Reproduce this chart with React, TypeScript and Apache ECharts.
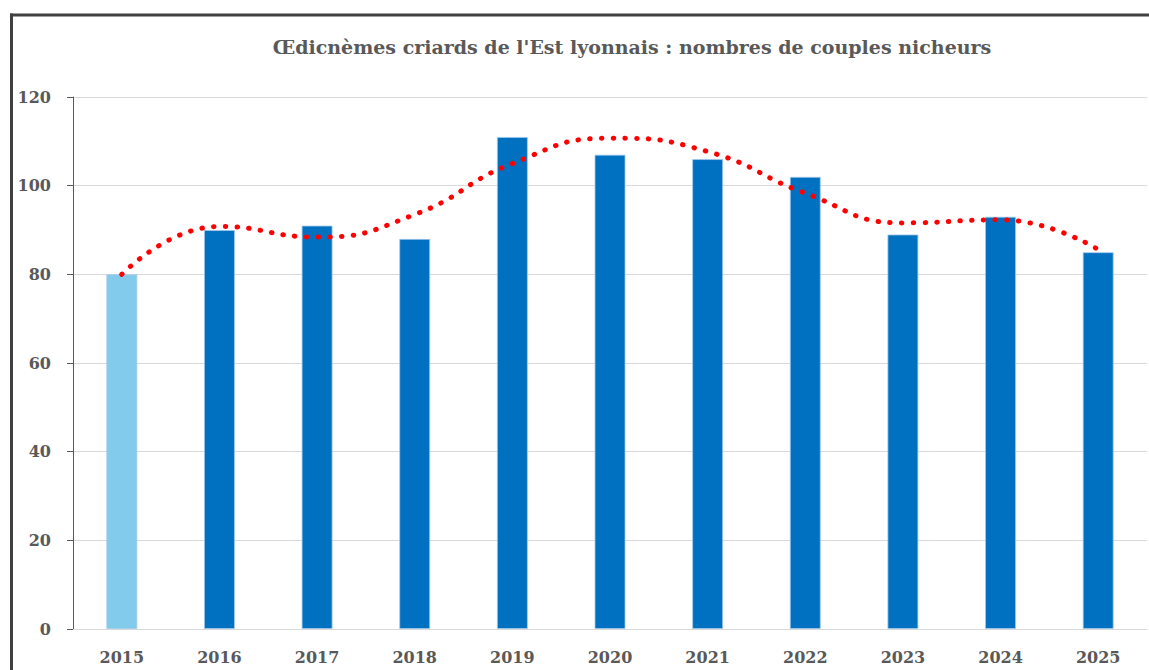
import React, { useEffect, useRef } from "react";
import * as echarts from "echarts";

const titleText = "Œdicnèmes criards de l'Est lyonnais : nombres de couples nicheurs";
const years = ["2015", "2016", "2017", "2018", "2019", "2020", "2021", "2022", "2023", "2024", "2025"];
const couples = [80, 90, 91, 88, 111, 107, 106, 102, 89, 93, 85];
const trend = [80, 90.8, 88.4, 93.5, 105, 110.7, 107.7, 98.3, 91.6, 92.3, 85.6];
const yTicks = { min: 0, max: 120, interval: 20 };

const FONT = "'DejaVu Serif', serif";

export default function App() {
  const ref = useRef<HTMLDivElement>(null);
  useEffect(() => {
    const chart = echarts.init(ref.current!, null, { renderer: "svg" });
    chart.setOption({
      animation: false,
      backgroundColor: "#ffffff",
      title: {
        text: titleText,
        left: 627,
        textAlign: "center",
        top: 32,
        textStyle: { fontFamily: FONT, fontWeight: "bold", fontSize: 19, color: "#595959" },
      },
      grid: { left: 73, right: 2, top: 97, bottom: 41, containLabel: false },
      xAxis: {
        type: "category",
        data: years,
        axisLine: { show: true, lineStyle: { color: "#d9d9d9", width: 1 } },
        axisTick: { show: false },
        axisLabel: { fontFamily: FONT, fontWeight: "bold", fontSize: 16, color: "#595959", margin: 20 },
      },
      yAxis: {
        type: "value",
        min: yTicks.min,
        max: yTicks.max,
        interval: yTicks.interval,
        axisLine: { show: true, lineStyle: { color: "#595959", width: 1 } },
        axisTick: { show: true, length: 6, lineStyle: { color: "#595959" } },
        axisLabel: { fontFamily: FONT, fontWeight: "bold", fontSize: 16, color: "#595959", margin: 22 },
        splitLine: { show: true, lineStyle: { color: "#d9d9d9", width: 1 } },
      },
      series: [
        {
          type: "bar",
          data: couples.map((v, i) => ({
            value: v,
            itemStyle: { color: i === 0 ? "#83CBEB" : "#0070C0" },
          })),
          barWidth: 31,
          itemStyle: { borderColor: "rgba(160,200,235,0.8)", borderWidth: 1 },
          z: 2,
        },
        {
          type: "line",
          data: trend,
          smooth: 0.5,
          symbol: "none",
          lineStyle: { color: "#ff0000", width: 5, type: [0.5, 11.2], cap: "round" },
          z: 3,
        },
      ],
      graphic: [
        { type: "line", shape: { x1: 10, y1: 15, x2: 1149, y2: 15 }, style: { stroke: "#404040", lineWidth: 3 }, z: 10 },
        { type: "line", shape: { x1: 11.5, y1: 13.5, x2: 11.5, y2: 670 }, style: { stroke: "#404040", lineWidth: 3 }, z: 10 },
      ],
    });
    return () => chart.dispose();
  }, []);
  return (
    <div
      ref={ref}
      style={{ position: "fixed", left: 0, top: 0, width: 1149, height: 670 }}
    />
  );
}
